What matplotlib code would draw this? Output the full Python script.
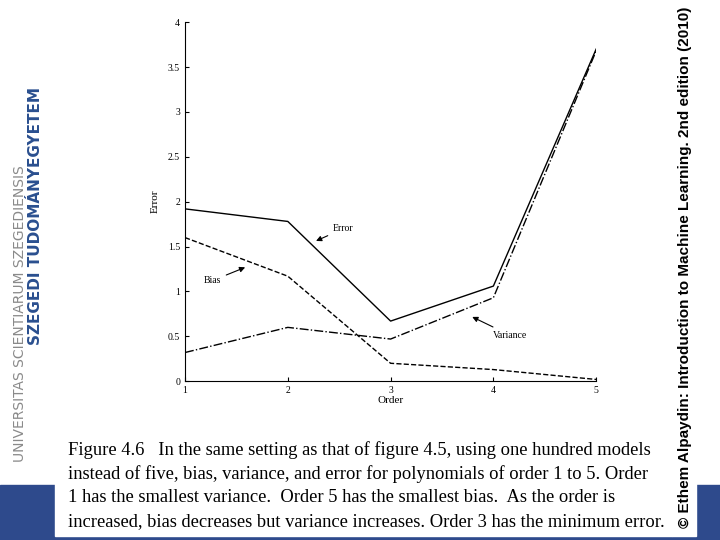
import matplotlib.pyplot as plt

orders = [1, 2, 3, 4, 5]
error = [1.92, 1.78, 0.67, 1.06, 3.70]
bias = [1.60, 1.17, 0.20, 0.13, 0.02]
variance = [0.32, 0.60, 0.47, 0.93, 3.68]

caption = [
    "Figure 4.6   In the same setting as that of figure 4.5, using one hundred models",
    "instead of five, bias, variance, and error for polynomials of order 1 to 5. Order",
    "1 has the smallest variance.  Order 5 has the smallest bias.  As the order is",
    "increased, bias decreases but variance increases. Order 3 has the minimum error.",
]

fig = plt.figure(figsize=(7.2, 5.4), dpi=100)

# slide background: blue band at the bottom, white box behind caption and chart
fig.add_artist(plt.Rectangle((0.0, 0.0), 1.0, 55 / 540, color='#2e4a8c', transform=fig.transFigure, zorder=-2))
fig.add_artist(plt.Rectangle((55 / 720, 4 / 540), 617 / 720, 536 / 540, color='white',
                             transform=fig.transFigure, zorder=-1))
fig.add_artist(plt.Rectangle((672 / 720, 4 / 540), 24 / 720, 536 / 540, color='white',
                             transform=fig.transFigure, zorder=-1))

ax = fig.add_axes([0.257, 0.294, 0.571, 0.665])
ax.plot(orders, error, 'k-', lw=1)
ax.plot(orders, bias, 'k--', lw=1)
ax.plot(orders, variance, 'k-.', lw=1)
ax.set_xlim(1, 5)
ax.set_ylim(0, 4)
ax.spines['top'].set_visible(False)
ax.spines['right'].set_visible(False)
ax.set_xticks(orders)
ax.set_yticks([0, 0.5, 1, 1.5, 2, 2.5, 3, 3.5, 4])
ax.set_yticklabels(['0', '0.5', '1', '1.5', '2', '2.5', '3', '3.5', '4'])
ax.tick_params(labelsize=7, direction='in', length=3)
for lbl in ax.get_xticklabels() + ax.get_yticklabels():
    lbl.set_family('Liberation Serif')
ax.set_xlabel('Order', fontsize=8, family='Liberation Serif', labelpad=1)
ax.set_ylabel('Error', fontsize=8, family='Liberation Serif', labelpad=6)

arrow = dict(arrowstyle='-|>', color='k', lw=0.8, mutation_scale=8)
ax.annotate('Error', xy=(2.25, 1.55), xytext=(2.44, 1.70), fontsize=7,
            family='Liberation Serif', va='center', arrowprops=arrow)
ax.annotate('Bias', xy=(1.61, 1.28), xytext=(1.18, 1.12), fontsize=7,
            family='Liberation Serif', va='center', arrowprops=arrow)
ax.annotate('Variance', xy=(3.77, 0.73), xytext=(4.0, 0.51), fontsize=7,
            family='Liberation Serif', va='center', arrowprops=arrow)

# caption
for i, line in enumerate(caption):
    fig.text(68 / 720, 1 - (450 + i * 24) / 540, line, fontsize=13.3,
             family='Liberation Serif', va='center', zorder=2)

# side texts
fig.text(0.951, 0.505, '© Ethem Alpaydin: Introduction to Machine Learning. 2nd edition (2010)',
         rotation=90, fontsize=11, weight='bold', family='Liberation Sans', va='center', ha='center',
         zorder=3)
fig.text(0.028, 0.42, 'UNIVERSITAS SCIENTIARUM SZEGEDIENSIS', rotation=90, fontsize=10,
         color='#8a8a8a', va='center', ha='center')
fig.text(0.05, 0.6, 'SZEGEDI TUDOMÁNYEGYETEM', rotation=90, fontsize=11, weight='bold',
         color='#2a4f8f', va='center', ha='center')

fig.savefig('out.png', dpi=100)
